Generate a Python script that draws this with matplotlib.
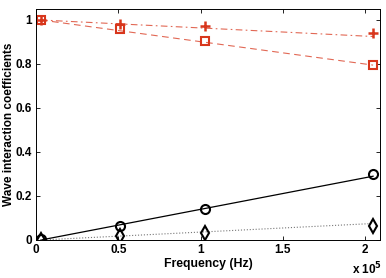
import numpy as np
import matplotlib
matplotlib.use("Agg")
import matplotlib.pyplot as plt

plt.rcParams['font.family'] = ['Liberation Sans', 'DejaVu Sans']
plt.rcParams['font.weight'] = 'bold'

# frequencies of the measured points (Hz)
freq = [3000, 51200, 102400, 204800]

# measured coefficients (markers)
sq_vals = [1.0, 0.958, 0.905, 0.795]
plus_vals = [1.0, 0.982, 0.973, 0.941]
circ_vals = [0.004, 0.064, 0.141, 0.300]
diam_vals = [0.002, 0.020, 0.030, 0.063]

# fitted trend lines
fit_freq = [3000, 204800]
sq_fit = [1.0, 0.795]
plus_fit = [1.0, 0.925]
circ_fit = [0.0, 0.290]
diam_fit = [0.0, 0.075]

red = '#d8361c'

fig = plt.figure(figsize=(3.86, 2.78), dpi=100)
ax = fig.add_axes([36/386, 38/278, 344/386, 231/278])

ax.plot(fit_freq, sq_fit, color=red, lw=0.8, alpha=0.75, dashes=(6, 4))
ax.plot(fit_freq, plus_fit, color=red, lw=0.8, alpha=0.75, dashes=(6, 3, 1.5, 3))
ax.plot(fit_freq, circ_fit, '-', color='black', lw=0.9)
ax.plot(fit_freq, diam_fit, ':', color='#777777', lw=0.8)

ax.plot(freq, sq_vals, 's', mfc='none', mec=red, mew=1.5, ms=6)
ax.plot(freq, plus_vals, '+', color=red, mew=1.8, ms=7)
ax.plot(freq, circ_vals, 'o', mfc='none', mec='black', mew=1.5, ms=6.5)
ax.plot(freq, diam_vals, 'd', mfc='none', mec='black', mew=1.5, ms=7)

ax.set_xlim(0, 2.09e5)
ax.set_ylim(0, 1.05)
ax.set_xticks([0, 50000, 100000, 150000, 200000])
ax.set_xticklabels(['0', '0.5', '1', '1.5', '2'])
ax.set_yticks([0, 0.2, 0.4, 0.6, 0.8, 1.0])
ax.set_yticklabels(['0', '0.2', '0.4', '0.6', '0.8', '1'])
ax.tick_params(direction='in', top=True, right=True, labelsize=8.5, length=3, width=0.6, pad=3)
for s in ax.spines.values():
    s.set_linewidth(0.7)

ax.set_xlabel('Frequency (Hz)', fontsize=8.8, fontweight='bold', labelpad=1)
ax.set_ylabel('Wave interaction coefficients', fontsize=8.5, fontweight='bold')
ax.yaxis.set_label_coords(-0.062, 0.5)
fig.text(352/386, 4/278, r'x 10$^{\mathbf{5}}$', fontsize=8.5, fontweight='bold')

fig.savefig('out.png', dpi=100)
